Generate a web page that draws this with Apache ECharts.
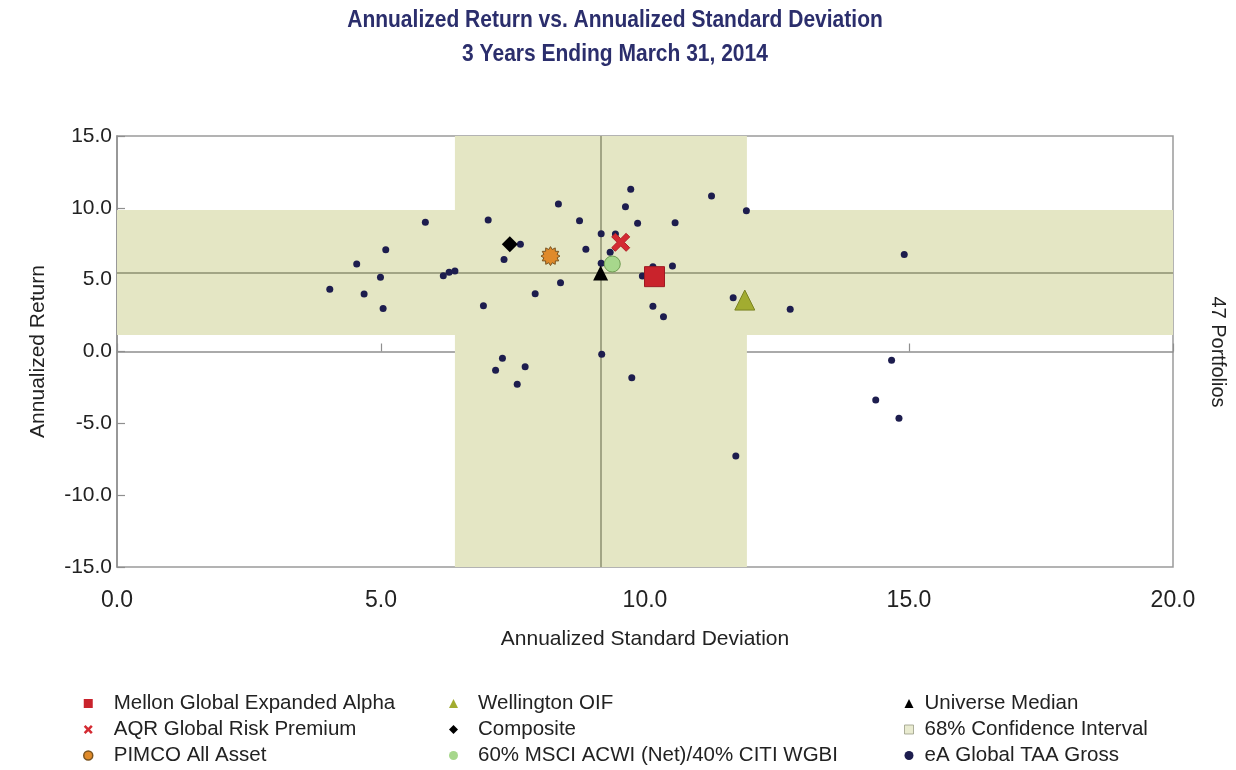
<!DOCTYPE html>
<html>
<head>
<meta charset="utf-8">
<script src="https://cdn.jsdelivr.net/npm/echarts@6/dist/echarts.min.js"></script>
<style>
  html, body { margin: 0; padding: 0; background: #ffffff; }
  #chart { width: 1236px; height: 770px; }
</style>
</head>
<body>
<div id="chart"></div>
<script>
// Risk / return scatter of global TAA managers, 3 years ending March 31, 2014

// Universe members: [annualized std dev, annualized return]
const universeStdDev = [
  4.03, 4.54, 4.68, 4.99, 5.09, 5.04, 5.84, 6.18, 6.29, 6.40,
  7.03, 6.94, 9.73, 11.26, 8.36, 9.63, 11.92, 8.76, 9.86, 10.57,
  9.17, 9.44, 7.64, 7.33, 8.88, 9.34, 9.17, 10.15, 9.95, 10.52,
  8.40, 7.92, 10.15, 10.35, 11.67, 12.75, 14.91, 9.18, 7.30, 7.17,
  7.73, 7.58, 9.75, 11.72, 14.67, 14.37, 14.81
];
const universeReturn = [
  4.33, 6.09, 4.00, 5.16, 7.08, 3.00, 8.99, 5.28, 5.51, 5.60,
  9.15, 3.19, 11.29, 10.82, 10.26, 10.08, 9.80, 9.10, 8.92, 8.96,
  8.20, 8.18, 7.46, 6.41, 7.11, 6.90, 6.14, 5.90, 5.25, 5.95,
  4.79, 4.02, 3.15, 2.42, 3.75, 2.94, 6.76, -0.20, -0.47, -1.31,
  -1.06, -2.28, -1.82, -7.27, -0.61, -3.38, -4.65
];

// Highlighted portfolios and benchmarks
const fundNames = [
  'Mellon Global Expanded Alpha',
  'AQR Global Risk Premium',
  'PIMCO All Asset',
  'Wellington OIF',
  'Composite',
  '60% MSCI ACWI (Net)/40% CITI WGBI'
];
const fundStdDev = [10.18, 9.54, 8.21, 11.89, 7.44, 9.38];
const fundReturn = [5.21, 7.60, 6.64, 3.58, 7.46, 6.09];

// Universe median and 68% confidence interval bounds
const medianPoint = [9.16, 5.47];
const ciStdDev = [6.40, 11.93];
const ciReturn = [1.15, 9.85];

// Axis settings
const xRange = [0, 20];
const yRange = [-15, 15];
const tickStep = 5;
const universeCount = universeStdDev.length;

const titleLines = [
  'Annualized Return vs. Annualized Standard Deviation',
  '3 Years Ending March 31, 2014'
];

// Symbol shapes
const crossPath = 'path://M2,0 L5,3 L8,0 L10,2 L7,5 L10,8 L8,10 L5,7 L2,10 L0,8 L3,5 L0,2 Z';
function starPath(points, inner) {
  let d = '';
  for (let i = 0; i < points * 2; i++) {
    const r = i % 2 === 0 ? 10 : 10 * inner;
    const a = Math.PI * i / points - Math.PI / 2;
    const px = (10 + r * Math.cos(a)).toFixed(2);
    const py = (10 + r * Math.sin(a)).toFixed(2);
    d += (i === 0 ? 'M' : 'L') + px + ',' + py + ' ';
  }
  return 'path://' + d + 'Z';
}
const sunPath = starPath(12, 0.72);

const fundStyles = [
  { symbol: 'rect', size: 20, color: '#c9232c', border: '#9e1a22', icon: 'rect' },
  { symbol: crossPath, size: 18, color: '#d42a32', border: '#b01e26', icon: crossPath },
  { symbol: sunPath, size: 19, color: '#df8a2a', border: '#7a5420', icon: 'circle' },
  { symbol: 'triangle', size: 20, color: '#a2ac30', border: '#7b8320', icon: 'triangle' },
  { symbol: 'diamond', size: 16, color: '#000000', border: '#000000', icon: 'diamond' },
  { symbol: 'circle', size: 16, color: '#a7d78c', border: '#6e9c52', icon: 'circle' }
];

const sans = "'Liberation Sans', Arial, Helvetica, sans-serif";
const bandColor = '#e4e6c4';
const medianLineColor = '#8c8f70';
const titleColor = '#2b2e6c';

const chart = echarts.init(document.getElementById('chart'), null, { renderer: 'canvas' });

const fundSeries = fundNames.map((name, i) => ({
  name: name,
  type: 'scatter',
  z: 5 + (i === 1 ? 1 : 0),
  symbol: fundStyles[i].symbol,
  symbolSize: fundStyles[i].size,
  itemStyle: {
    color: fundStyles[i].color,
    borderColor: fundStyles[i].border,
    borderWidth: i === 4 ? 0 : 1,
    opacity: 1
  },
  data: [[fundStdDev[i], fundReturn[i]]],
  emphasis: { disabled: true }
}));

function legendBlock(left, textGap, data) {
  return {
    orient: 'vertical',
    left: left,
    top: 693,
    padding: 0,
    itemWidth: 9,
    itemHeight: 9,
    itemGap: 5,
    selectedMode: false,
    textStyle: {
      fontFamily: sans,
      fontSize: 20.5,
      color: '#222222',
      lineHeight: 20,
      padding: [0, 0, 0, textGap]
    },
    data: data
  };
}

function legendEntry(name) {
  const i = fundNames.indexOf(name);
  return {
    name: name,
    icon: fundStyles[i].icon,
    itemStyle: { color: fundStyles[i].color, borderColor: fundStyles[i].border, borderWidth: i === 2 ? 1.5 : 0 }
  };
}

const option = {
  backgroundColor: '#ffffff',
  animation: false,
  legend: [
    legendBlock(83, 16, fundNames.slice(0, 3).map(legendEntry)),
    legendBlock(449, 15, fundNames.slice(3, 6).map(legendEntry)),
    legendBlock(904, 6, [
      { name: 'Universe Median', icon: 'triangle', itemStyle: { color: '#000000', borderWidth: 0 } },
      { name: '68% Confidence Interval', icon: 'rect', itemStyle: { color: bandColor, borderColor: '#9a9c86', borderWidth: 1 } },
      { name: 'eA Global TAA Gross', icon: 'circle', itemStyle: { color: '#1d1d4e', borderWidth: 0 } }
    ])
  ],
  grid: {
    left: 117,
    right: 63,
    top: 136,
    bottom: 203,
    show: true,
    borderColor: '#9a9a9a',
    borderWidth: 1.5,
    backgroundColor: 'transparent'
  },
  xAxis: {
    type: 'value',
    min: xRange[0],
    max: xRange[1],
    interval: tickStep,
    name: 'Annualized Standard Deviation',
    nameLocation: 'middle',
    nameGap: 62,
    nameTextStyle: { fontFamily: sans, fontSize: 21, color: '#222222' },
    axisLine: { show: true, lineStyle: { color: '#8f8f8f', width: 1.5 } },
    axisTick: { show: true, inside: true, length: 8, lineStyle: { color: '#8f8f8f', width: 1.2 } },
    axisLabel: {
      fontFamily: sans,
      fontSize: 23,
      color: '#222222',
      margin: 22,
      formatter: v => v.toFixed(1)
    },
    splitLine: { show: false }
  },
  yAxis: {
    type: 'value',
    min: yRange[0],
    max: yRange[1],
    interval: tickStep,
    name: 'Annualized Return',
    nameLocation: 'middle',
    nameGap: 68,
    nameRotate: 90,
    nameTextStyle: { fontFamily: sans, fontSize: 21, color: '#222222' },
    axisLine: { show: true, lineStyle: { color: '#8f8f8f', width: 1.5 } },
    axisTick: { show: true, inside: true, length: 8, lineStyle: { color: '#8f8f8f', width: 1.2 } },
    axisLabel: {
      fontFamily: sans,
      fontSize: 21,
      color: '#222222',
      margin: 5,
      formatter: v => v.toFixed(1)
    },
    splitLine: { show: false }
  },
  graphic: [
    // Two-line condensed heading
    {
      type: 'text',
      x: 615,
      y: 20,
      scaleX: 0.875,
      style: {
        text: titleLines[0],
        fontFamily: sans,
        fontWeight: 'bold',
        fontSize: 24,
        fill: titleColor,
        align: 'center',
        verticalAlign: 'middle'
      }
    },
    {
      type: 'text',
      x: 615,
      y: 54,
      scaleX: 0.875,
      style: {
        text: titleLines[1],
        fontFamily: sans,
        fontWeight: 'bold',
        fontSize: 24,
        fill: titleColor,
        align: 'center',
        verticalAlign: 'middle'
      }
    },
    // Universe size on the right edge
    {
      type: 'text',
      x: 1218,
      y: 352,
      rotation: -Math.PI / 2,
      style: {
        text: universeCount + ' Portfolios',
        fontFamily: sans,
        fontSize: 20,
        fill: '#222222',
        align: 'center',
        verticalAlign: 'middle'
      }
    }
  ],
  series: [
    {
      name: '68% Confidence Interval',
      type: 'scatter',
      z: 1,
      data: [],
      itemStyle: { color: bandColor },
      markArea: {
        silent: true,
        itemStyle: { color: bandColor, opacity: 1 },
        data: [
          [{ xAxis: ciStdDev[0], yAxis: yRange[0] }, { xAxis: ciStdDev[1], yAxis: yRange[1] }],
          [{ xAxis: xRange[0], yAxis: ciReturn[0] }, { xAxis: xRange[1], yAxis: ciReturn[1] }]
        ]
      }
    },
    {
      name: 'eA Global TAA Gross',
      type: 'scatter',
      z: 3,
      symbol: 'circle',
      symbolSize: 7,
      itemStyle: { color: '#1d1d4e', opacity: 1 },
      data: universeStdDev.map((x, i) => [x, universeReturn[i]]),
      emphasis: { disabled: true }
    },
    {
      name: 'Universe Median',
      type: 'scatter',
      z: 4,
      symbol: 'triangle',
      symbolSize: 15,
      itemStyle: { color: '#000000', opacity: 1 },
      data: [medianPoint],
      emphasis: { disabled: true },
      markLine: {
        silent: true,
        symbol: ['none', 'none'],
        z: 2,
        label: { show: false },
        lineStyle: { color: medianLineColor, width: 1.5, type: 'solid' },
        data: [{ xAxis: medianPoint[0] }, { yAxis: medianPoint[1] }]
      }
    }
  ].concat(fundSeries)
};

chart.setOption(option);
</script>
</body>
</html>
